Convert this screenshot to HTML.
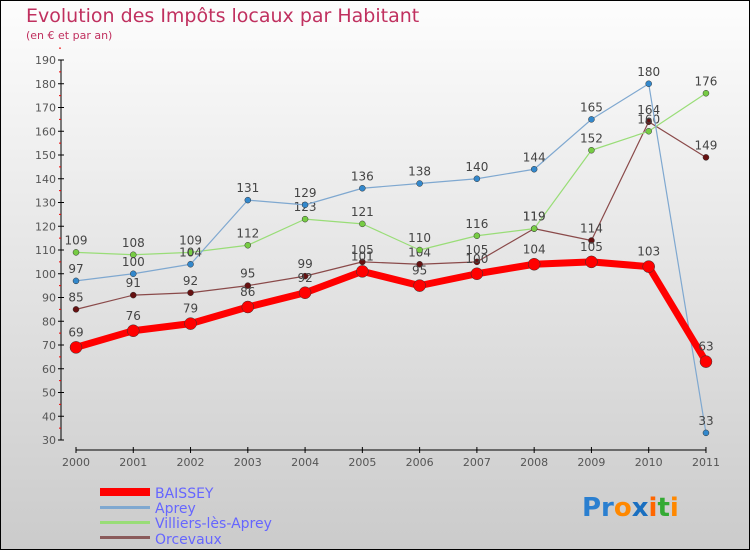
<!DOCTYPE html>
<html><head><meta charset="utf-8"><style>
body{margin:0;}
#c{width:750px;height:550px;}
text{font-family:"DejaVu Sans","Liberation Sans",sans-serif;}
</style></head><body>
<div id="c">
<svg id="s" width="750" height="550" xmlns="http://www.w3.org/2000/svg">
<defs><linearGradient id="bg" x1="0" y1="0" x2="0" y2="1"><stop offset="0" stop-color="#fdfdfd"/><stop offset="1" stop-color="#cbcbcb"/></linearGradient></defs>
<rect x="0.5" y="0.5" width="749" height="549" fill="url(#bg)" stroke="#000" stroke-width="1"/>
<text x="26" y="22" font-size="19" fill="#c0305f">Evolution des Impôts locaux par Habitant</text>
<text x="26" y="39" font-size="11" fill="#c0305f">(en € et par an)</text>
<g id="axes"></g><g id="series"></g>
<g>
<rect x="100" y="488" width="50" height="8" fill="#f00"/>
<text x="155" y="498" font-size="14" fill="#6666ff">BAISSEY</text>
<rect x="100" y="506" width="50" height="3" fill="#7fa8d0"/>
<text x="155" y="513" font-size="14" fill="#6666ff">Aprey</text>
<rect x="100" y="521" width="50" height="3" fill="#99dd77"/>
<text x="155" y="528" font-size="14" fill="#6666ff">Villiers-lès-Aprey</text>
<rect x="100" y="536" width="50" height="3" fill="#8a5a5a"/>
<text x="155" y="544" font-size="14" fill="#6666ff">Orcevaux</text>
</g>
<text x="582" y="516" font-size="26" font-weight="bold"><tspan fill="#2a7fd0">Pr</tspan><tspan fill="#ff8800">o</tspan><tspan fill="#1a6fc0">x</tspan><tspan fill="#ff6600">i</tspan><tspan fill="#33aa33">t</tspan><tspan fill="#ff8800">i</tspan></text>
</svg></div>
<script>
const years=["2000","2001","2002","2003","2004","2005","2006","2007","2008","2009","2010","2011"];
const yTicks=[30,40,50,60,70,80,90,100,110,120,130,140,150,160,170,180,190];
const baissey=[69,76,79,86,92,101,95,100,104,105,103,63];
const aprey=[97,100,104,131,129,136,138,140,144,165,180,33];
const villiers=[109,108,109,112,123,121,110,116,119,152,160,176];
const orcevaux=[85,91,92,95,99,105,104,105,119,114,164,149];
const NS="http://www.w3.org/2000/svg";
const X=i=>76+i*57.27;
const Y=v=>440-(v-30)*2.375;
function mk(t,a,p){const e=document.createElementNS(NS,t);for(const k in a)e.setAttribute(k,a[k]);p.appendChild(e);return e;}
const ax=document.getElementById('axes');
let l=mk('line',{x1:61,y1:Y(190),x2:61,y2:Y(30),stroke:'#000'},ax);


yTicks.forEach(v=>{
 mk('line',{x1:58,y1:Y(v),x2:64,y2:Y(v),stroke:'#000'},ax);
 mk('line',{x1:59,y1:Y(v+5),x2:61,y2:Y(v+5),stroke:'#e00'},ax);
 const t=mk('text',{x:56,y:Y(v)+4,'font-size':11,fill:'#555','text-anchor':'end'},ax);t.textContent=v;
 
 
});
l=mk('line',{x1:X(0),y1:450,x2:X(11),y2:450,stroke:'#000'},ax);


years.forEach((y,i)=>{
 mk('line',{x1:X(i),y1:447,x2:X(i),y2:453,stroke:'#000'},ax);
 const t=mk('text',{x:X(i),y:466,'font-size':11,fill:'#555','text-anchor':'middle'},ax);t.textContent=y;
 
 
});
const sg=document.getElementById('series');
function draw(data,name,col,w,r,dot){
 const g=mk('g',{},sg);
 
 
 const p=mk('polyline',{points:data.map((v,i)=>X(i)+','+Y(v)).join(' '),fill:'none',stroke:col,'stroke-width':w,'stroke-linejoin':'round'},g);
 
 
 data.forEach((v,i)=>{
  const c=mk('circle',{cx:X(i),cy:Y(v),r:r,fill:dot,stroke:'#333','stroke-width':0.5},g);
  
  
  const t=mk('text',{x:X(i),y:Y(v)-(r+5),'font-size':12,fill:'#444','text-anchor':'middle'},g);t.textContent=v;
  
  
 });
}
draw(orcevaux,'orcevaux','#8a4a4a',1.2,3,'#661111');
draw(villiers,'villiers','#99dd77',1.2,3,'#77cc44');
draw(aprey,'aprey','#7fa8d0',1.2,3,'#3388cc');
draw(baissey,'baissey','#f00',7,6,'#f00');
</script>
</body></html>
